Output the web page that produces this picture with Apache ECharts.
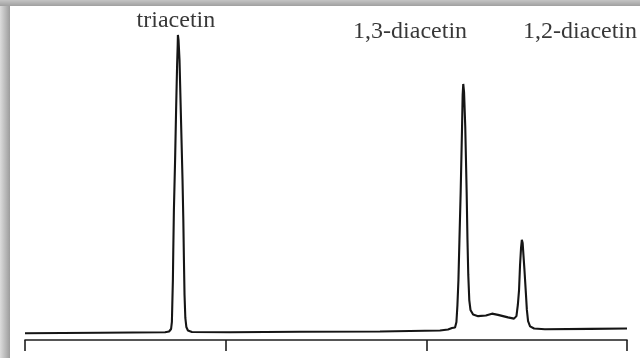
<!DOCTYPE html>
<html>
<head>
<meta charset="utf-8">
<script src="https://cdn.jsdelivr.net/npm/echarts@6/dist/echarts.min.js"></script>
<style>
  html, body { margin: 0; padding: 0; background: #fff; }
  #wrap { position: relative; width: 640px; height: 358px; overflow: hidden; }
  #shadeLeft { position: absolute; left: 0; top: 0; width: 10px; height: 358px;
    background: linear-gradient(to right, #dcdcdc, #9c9c9c); }
  #shadeTop { position: absolute; left: 0; top: 0; width: 640px; height: 6px;
    background: linear-gradient(to bottom, #c4c4c4, #a0a0a0); }
  #chart { position: absolute; left: 0; top: 0; width: 640px; height: 358px; }
</style>
</head>
<body>
<div id="wrap">
  <div id="shadeLeft"></div>
  <div id="shadeTop"></div>
  <div id="chart"></div>
</div>
<script>
// retention time (min) and detector signal
const time = [
  0, 3.74, 6.98, 7.18, 7.28, 7.32, 7.34, 7.37, 7.39, 7.42, 7.48, 7.53, 7.58, 7.61, 7.62,
  7.65, 7.70, 7.75, 7.80, 7.85, 7.89, 7.92, 7.95, 7.99, 8.04, 8.12, 8.32, 10.22, 13.70,
  17.69, 20.68, 21.08, 21.28, 21.43, 21.50, 21.55, 21.60, 21.65, 21.71, 21.78, 21.81, 21.84,
  21.88, 21.94, 22.01, 22.05, 22.09, 22.14, 22.20, 22.33, 22.58, 22.97, 23.27, 23.57, 24.07,
  24.37, 24.49, 24.56, 24.62, 24.67, 24.72, 24.76, 24.80, 24.84, 24.89, 24.96, 25.01, 25.07,
  25.17, 25.37, 25.91, 28.16, 30.00
]
const signal = [
  2.2, 2.35, 2.48, 2.74, 3.55, 5.81, 11.3, 19.4, 29.0, 41.9, 58.1, 74.2, 88.7, 95.2, 98.4,
  96.8, 90.3, 77.4, 64.5, 51.6, 38.7, 25.8, 14.5, 7.1, 4.2, 3.06, 2.58, 2.48, 2.65,
  2.74, 3.06, 3.39, 3.87, 4.03, 5.81, 11.3, 19.4, 32.3, 47.4, 68.7, 79.0, 82.6,
  80.0, 68.7, 47.4, 32.3, 21.0, 12.9, 9.7, 8.2, 7.7, 7.9, 8.5, 8.1, 7.3,
  6.9, 7.7, 11.3, 16.1, 24.2, 29.7, 32.3, 31.3, 27.4, 22.6, 15.2, 9.7, 6.1,
  4.4, 3.7, 3.45, 3.6, 3.7
]

// peak names and where their captions sit
const peakNames = ['triacetin', '1,3-diacetin', '1,2-diacetin']
const labelX = [7.52, 19.19, 27.66]
const labelY = [103.0, 99.6, 99.6]

const xTicks = { min: 0, max: 30, interval: 10 }

const chart = echarts.init(document.getElementById('chart'))

chart.setOption({
  animation: false,
  backgroundColor: 'transparent',
  grid: { left: 25, right: 13, top: 30, bottom: 18 },
  xAxis: {
    type: 'value',
    min: xTicks.min,
    max: xTicks.max,
    interval: xTicks.interval,
    axisLine: { show: true, lineStyle: { color: '#1e1e1e', width: 1.6 } },
    axisTick: { show: true, length: 11, lineStyle: { color: '#1e1e1e', width: 1.6 } },
    axisLabel: { show: false },
    splitLine: { show: false }
  },
  yAxis: {
    type: 'value',
    min: 0,
    max: 100,
    show: false
  },
  series: [
    {
      type: 'line',
      data: time.map((t, i) => [t, signal[i]]),
      showSymbol: false,
      lineStyle: { color: '#151515', width: 2.1 }
    },
    {
      type: 'scatter',
      clip: false,
      symbolSize: 0,
      data: peakNames.map((n, i) => ({ name: n, value: [labelX[i], labelY[i]] })),
      label: {
        show: true,
        position: 'inside',
        formatter: '{b}',
        fontFamily: 'Liberation Serif',
        fontSize: 24,
        color: '#050505'
      }
    }
  ]
})
</script>
</body>
</html>
